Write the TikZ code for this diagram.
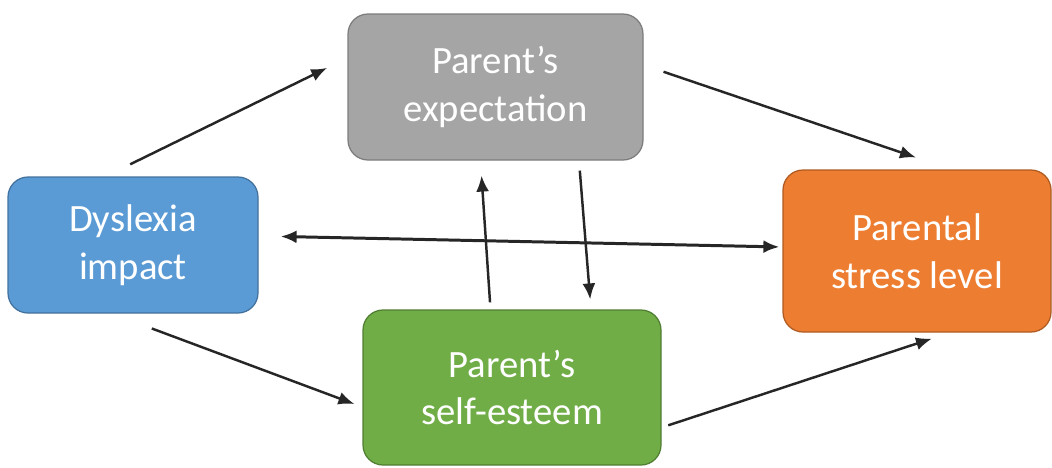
\documentclass[tikz,border=0pt]{standalone}
\usepackage{fontspec}
\setmainfont{Carlito}
\usetikzlibrary{arrows.meta}
\definecolor{dysfill}{HTML}{5B9BD5}
\definecolor{dysline}{HTML}{41719C}
\definecolor{expfill}{HTML}{A5A5A5}
\definecolor{expline}{HTML}{7C7C7C}
\definecolor{strfill}{HTML}{ED7D31}
\definecolor{strline}{HTML}{AE5A21}
\definecolor{estfill}{HTML}{70AD47}
\definecolor{estline}{HTML}{507E32}
\definecolor{arrcol}{HTML}{262626}
\tikzset{
  >={Latex[length=3.2mm,width=2.6mm]},
}
\tikzstyle{box}=[rounded corners=0.4cm,line width=0.7pt,text=white,align=center,
  font=\fontsize{22}{27}\selectfont,inner sep=0pt]
\tikzstyle{link}=[line width=1.4pt,draw=arrcol,->]

\begin{document}
\begin{tikzpicture}
    \useasboundingbox (0,0) rectangle (21.04,-9.34);
    \node[box,fill=dysfill,draw=dysline,minimum width=5cm,minimum height=2.72cm]
      (dys) at (2.66,-4.9) {Dyslexia\\impact};
    \node[box,fill=expfill,draw=expline,minimum width=5.9cm,minimum height=2.92cm]
      (exp) at (9.91,-1.74) {Parent’s\\expectation};
    \node[box,fill=strfill,draw=strline,minimum width=5.36cm,minimum height=3.24cm]
      (str) at (18.34,-5.02) {Parental\\stress level};
    \node[box,fill=estfill,draw=estline,minimum width=5.96cm,minimum height=3.1cm]
      (est) at (10.24,-7.75) {Parent’s\\self-esteem};
    \draw[link,shorten <=0.55cm,shorten >=0.45cm]
      ([xshift=-0.55cm]dys.north) -- ([yshift=0.58cm]exp.west);
    \draw[link,shorten <=0.42cm,shorten >=0.74cm]
      ([yshift=0.44cm]exp.east) -- ([xshift=0.68cm]str.north);
    \draw[link,<->,line width=1.7pt,shorten <=0.44cm,shorten >=0.06cm]
      ([yshift=0.18cm]dys.east) -- ([yshift=0.08cm]str.west);
    \draw[link,shorten <=0.14cm,shorten >=0.3cm]
      ([xshift=-0.43cm]est.north) -- ([xshift=-0.3cm]exp.south);
    \draw[link,shorten <=0.2cm,shorten >=0.2cm]
      ([xshift=1.67cm]exp.south) -- ([xshift=1.58cm]est.north);
    \draw[link,shorten <=0.85cm,shorten >=0.17cm]
      ([xshift=-0.42cm]dys.south) -- ([yshift=-0.39cm]est.west);
    \draw[link,shorten <=0.14cm,shorten >=0.38cm]
      ([yshift=-0.8cm]est.east) -- ([xshift=0.66cm]str.south);
\end{tikzpicture}
\end{document}
